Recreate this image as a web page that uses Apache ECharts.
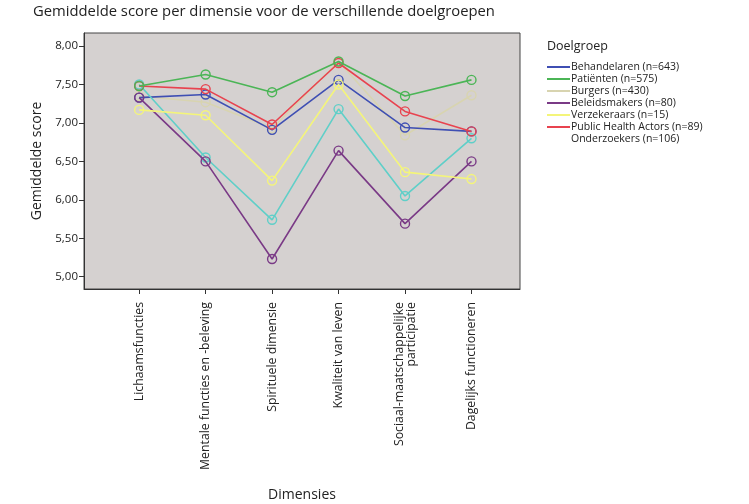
<!DOCTYPE html>
<html><head><meta charset="utf-8">
<script src="https://cdn.jsdelivr.net/npm/echarts@6/dist/echarts.min.js"></script>
<style>html,body{margin:0;padding:0;background:#fff}#c{width:749px;height:504px}</style>
</head><body><div id="c"></div>
<script>
var categories = ['Lichaamsfuncties','Mentale functies en -beleving','Spirituele dimensie','Kwaliteit van leven','Sociaal-maatschappelijke\nparticipatie','Dagelijks functioneren'];
var yTicks = [5.0,5.5,6.0,6.5,7.0,7.5,8.0];
var seriesNames = ['Behandelaren (n=643)','Patiënten (n=575)','Burgers (n=430)','Beleidsmakers (n=80)','Verzekeraars (n=15)','Public Health Actors (n=89)','Onderzoekers (n=106)'];
var behandelaren = [7.33,7.37,6.91,7.56,6.94,6.89];
var patienten    = [7.48,7.63,7.40,7.80,7.35,7.56];
var burgers      = [7.35,7.27,6.93,7.80,6.84,7.36];
var beleidsmakers= [7.33,6.50,5.23,6.64,5.69,6.50];
var verzekeraars = [7.17,7.10,6.25,7.50,6.36,6.27];
var publicHealth = [7.48,7.44,6.98,7.78,7.15,6.89];
var onderzoekers = [7.50,6.55,5.74,7.18,6.05,6.80];
var seriesData = [behandelaren,patienten,burgers,beleidsmakers,verzekeraars,publicHealth,onderzoekers];
var colors = ['#3f4fb3','#4bb556','#d8d4b0','#7a3a86','#f4f57a','#e8434f','#5fcfc8'];

var FONT = 'Open Sans';
var chart = echarts.init(document.getElementById('c'));
var series = seriesData.map(function(d,i){
  return {
    name: seriesNames[i], type:'line',
    data: d.map(function(v,j){return [j,v];}),
    symbol:'circle', symbolSize:9,
    lineStyle:{color:colors[i], width:1.6},
    itemStyle:{color:'rgba(0,0,0,0)', borderColor:colors[i], borderWidth:1.4},
    z: [3,9,2,4,5,6,3][i]
  };
});
chart.setOption({
  animation:false,
  backgroundColor:'#fff',
  color: colors,
  textStyle:{fontFamily:FONT},
  title:[
    {text:'Gemiddelde score per dimensie voor de verschillende doelgroepen', left:28, top:-1,
     textStyle:{fontFamily:FONT, fontSize:14.8, fontWeight:'normal', color:'#222'}},
    {text:'Doelgroep', left:542, top:35, textStyle:{fontFamily:FONT, fontSize:12.5, fontWeight:'normal', color:'#222'}}
  ],
  legend:{
    orient:'vertical', left:542, top:56, itemWidth:23, itemHeight:2, itemGap:0,
    icon:'rect',
    textStyle:{fontFamily:FONT, fontSize:10.5, color:'#222', lineHeight:12, padding:[0,0,0,-4]},
    data: seriesNames.map(function(n,i){
      return {name:n, itemStyle:{color: i===6 ? 'rgba(0,0,0,0)' : colors[i], borderWidth:0}};
    })
  },
  grid:{left:84, right:229, top:33, bottom:215, outerBoundsMode:'none', containLabel:false,
        show:true, backgroundColor:'#d5d1d0', borderColor:'#444', borderWidth:1},
  xAxis:{
    type:'value', min:-0.83, max:5.73,
    name:'Dimensies', nameLocation:'middle', nameGap:199,
    nameTextStyle:{fontFamily:FONT, fontSize:14, color:'#222'},
    axisLine:{show:true, onZero:false, lineStyle:{color:'#333'}},
    axisTick:{show:true, length:5, lineStyle:{color:'#333'}, customValues:[0,1,2,3,4,5]},
    splitLine:{show:false},
    axisLabel:{customValues:[0,1,2,3,4,5], rotate:90, fontFamily:FONT, fontSize:12.3, color:'#222', margin:13,
      formatter:function(v){return categories[Math.round(v)];}}
  },
  yAxis:{
    type:'value', min:4.84, max:8.17,
    name:'Gemiddelde score', nameLocation:'middle', nameGap:37, nameRotate:90,
    nameTextStyle:{fontFamily:FONT, fontSize:14, color:'#222'},
    axisLine:{show:true, onZero:false, lineStyle:{color:'#333'}},
    axisTick:{show:true, length:5, lineStyle:{color:'#333'}, customValues:yTicks},
    splitLine:{show:false},
    axisLabel:{customValues:yTicks, fontFamily:FONT, fontSize:11.5, color:'#222', margin:6,
      formatter:function(v){return v.toFixed(2).replace('.',',');}}
  },
  series: series
});
</script></body></html>
